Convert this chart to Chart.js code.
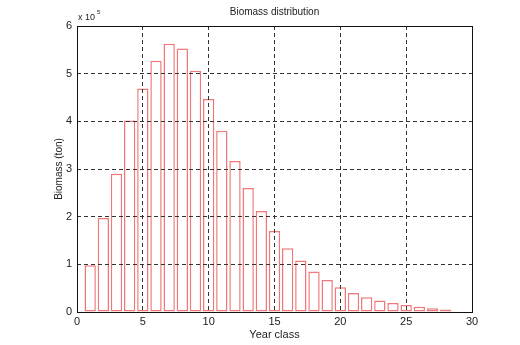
<!DOCTYPE html>
<html>
<head>
<meta charset="utf-8">
<script src="https://cdn.jsdelivr.net/npm/chart.js@4/dist/chart.umd.min.js"></script>
<style>
  html,body{margin:0;padding:0;background:#fff;}
  canvas{display:block;}
</style>
</head>
<body>
<canvas id="chart" width="520" height="345"></canvas>
<script>
// biomass per year class (ton)
const yearClass = [1,2,3,4,5,6,7,8,9,10,11,12,13,14,15,16,17,18,19,20,21,22,23,24,25,26,27,28];
const biomass = [98000,197000,290000,402000,469000,527000,563000,553000,506000,447000,380000,317000,
  260000,212000,170000,134000,108000,85000,67000,52000,40000,31000,24000,19000,14500,11000,8000,5500];
const xTicks = [0,5,10,15,20,25,30];
const yTicks = [0,1,2,3,4,5,6];
const yExponent = 5;

const font = "'Liberation Sans', Arial, sans-serif";

// title, exponent note and the box around the axes
const frame = {
  id:"frame",
  afterDatasetsDraw(chart){
    const a = chart.chartArea, c = chart.ctx;
    c.save();
    c.fillStyle = "#222";
    c.font = "10px " + font;
    c.textAlign = "center";
    c.textBaseline = "middle";
    c.fillText("Biomass distribution", (a.left + a.right)/2, 12);
    c.textAlign = "left";
    c.textBaseline = "alphabetic";
    c.font = "9px " + font;
    c.fillText("x 10", a.left + 1, 20);
    c.font = "6px " + font;
    c.fillText(String(yExponent), a.left + 20, 14);
    c.restore();
  },
  afterDraw(chart){
    const a = chart.chartArea, c = chart.ctx;
    c.save();
    c.strokeStyle = "#111";
    c.lineWidth = 1;
    c.strokeRect(Math.round(a.left)+0.5, Math.round(a.top)+0.5, Math.round(a.right-a.left), Math.round(a.bottom-a.top));
    c.restore();
  }
};

new Chart(document.getElementById("chart"), {
  type:"bar",
  data:{
    datasets:[{
      data: yearClass.map((x,i)=>({x:x, y:biomass[i]})),
      backgroundColor:"#ffffff",
      borderColor:"#f07878",
      borderWidth:1.5,
      borderSkipped:false,
      categoryPercentage:1,
      barPercentage:0.86
    }]
  },
  options:{
    responsive:false,
    animation:false,
    layout:{padding:{left:53, right:48, top:26, bottom:0}},
    plugins:{legend:{display:false}, tooltip:{enabled:false}},
    scales:{
      x:{
        type:"linear",
        min:0, max:30,
        offset:false,
        afterBuildTicks(s){ s.ticks = xTicks.map(v=>({value:v})); },
        afterFit(s){ s.height = 33; },
        ticks:{color:"#222", font:{family:font, size:11}, padding:3, maxRotation:0},
        grid:{color:"#333", lineWidth:1, drawTicks:false, offset:false, z:1},
        border:{display:false, dash:[4,3]},
        title:{display:true, text:"Year class", color:"#222", font:{family:font, size:11}, padding:{top:0, bottom:3}}
      },
      y:{
        min:0, max:600000,
        afterBuildTicks(s){ s.ticks = yTicks.map(v=>({value:v*Math.pow(10,yExponent)})); },
        afterFit(s){ s.width = 24; },
        ticks:{color:"#222", font:{family:font, size:11}, padding:5,
          callback:v=>String(v/Math.pow(10,yExponent))},
        grid:{color:"#333", lineWidth:1, drawTicks:false, z:1},
        border:{display:false, dash:[4,3]},
        title:{display:true, text:"Biomass (ton)", color:"#222", font:{family:font, size:10}, padding:{top:0, bottom:0}}
      }
    }
  },
  plugins:[frame]
});
</script>
</body>
</html>
